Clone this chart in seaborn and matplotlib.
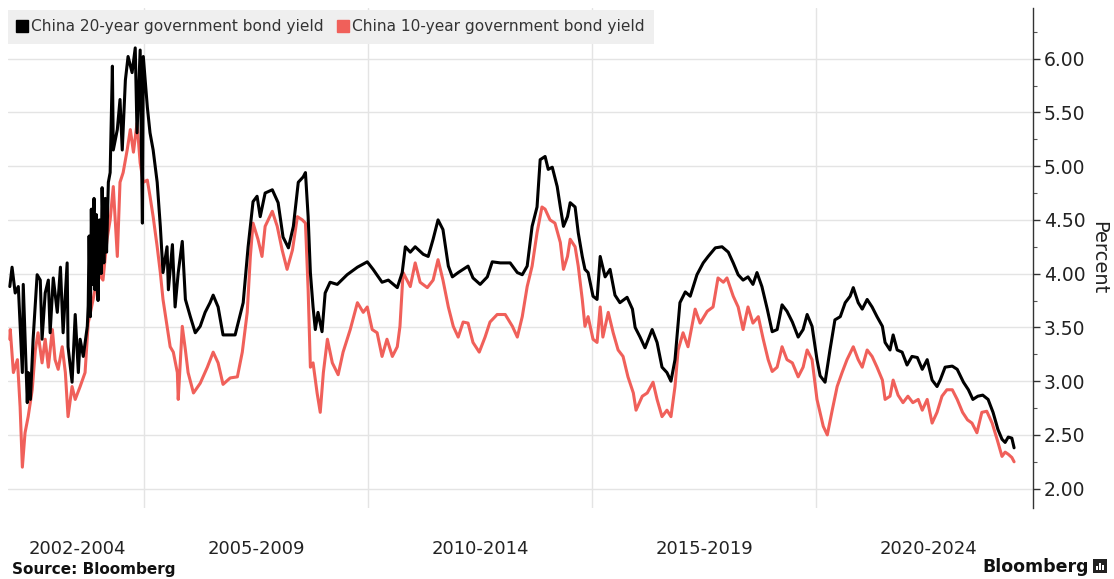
import matplotlib
matplotlib.use("Agg")
import matplotlib.pyplot as plt
from matplotlib.lines import Line2D
from matplotlib.patches import Rectangle
from matplotlib.ticker import MultipleLocator, FixedLocator
import pandas as pd
import seaborn as sns

# China 20-year government bond yield (decimal year, percent)
y20_years = [
    2002.00, 2002.05, 2002.12, 2002.19, 2002.28, 2002.30, 2002.39, 2002.41, 2002.46, 2002.52,
    2002.61, 2002.68, 2002.72, 2002.79, 2002.86, 2002.90, 2002.97, 2003.06, 2003.13, 2003.19,
    2003.28, 2003.30, 2003.39, 2003.46, 2003.53, 2003.57, 2003.64, 2003.73, 2003.75, 2003.77,
    2003.80, 2003.82, 2003.84, 2003.88, 2003.90, 2003.93, 2003.97, 2004.00, 2004.04, 2004.06,
    2004.10, 2004.13, 2004.16, 2004.20, 2004.24, 2004.29, 2004.31, 2004.40, 2004.46, 2004.51,
    2004.58, 2004.64, 2004.73, 2004.80, 2004.84, 2004.91, 2004.96, 2004.98, 2005.07, 2005.13,
    2005.20, 2005.29, 2005.36, 2005.42, 2005.51, 2005.54, 2005.63, 2005.69, 2005.76, 2005.85,
    2005.92, 2006.03, 2006.14, 2006.25, 2006.36, 2006.47, 2006.54, 2006.65, 2006.76, 2007.03,
    2007.21, 2007.32, 2007.43, 2007.52, 2007.59, 2007.70, 2007.86, 2007.99, 2008.10, 2008.22,
    2008.33, 2008.44, 2008.55, 2008.60, 2008.66, 2008.71, 2008.77, 2008.82, 2008.88, 2008.97,
    2009.04, 2009.15, 2009.31, 2009.53, 2009.76, 2009.98, 2010.11, 2010.31, 2010.45, 2010.65,
    2010.76, 2010.83, 2010.94, 2011.05, 2011.23, 2011.34, 2011.45, 2011.56, 2011.67, 2011.79,
    2011.88, 2012.01, 2012.23, 2012.34, 2012.50, 2012.66, 2012.77, 2012.95, 2013.17, 2013.33,
    2013.44, 2013.55, 2013.66, 2013.77, 2013.84, 2013.95, 2014.02, 2014.11, 2014.22, 2014.29,
    2014.36, 2014.45, 2014.51, 2014.62, 2014.69, 2014.78, 2014.84, 2014.91, 2015.02, 2015.11,
    2015.18, 2015.29, 2015.40, 2015.51, 2015.62, 2015.78, 2015.90, 2015.96, 2016.07, 2016.18,
    2016.34, 2016.45, 2016.56, 2016.67, 2016.76, 2016.85, 2016.96, 2017.08, 2017.19, 2017.34,
    2017.48, 2017.59, 2017.75, 2017.90, 2018.04, 2018.15, 2018.26, 2018.37, 2018.48, 2018.59,
    2018.68, 2018.79, 2018.91, 2019.02, 2019.13, 2019.24, 2019.35, 2019.47, 2019.60, 2019.71,
    2019.80, 2019.91, 2020.02, 2020.09, 2020.20, 2020.31, 2020.42, 2020.54, 2020.65, 2020.76,
    2020.83, 2020.94, 2021.03, 2021.14, 2021.25, 2021.36, 2021.48, 2021.54, 2021.65, 2021.72,
    2021.81, 2021.92, 2022.03, 2022.14, 2022.26, 2022.37, 2022.48, 2022.59, 2022.70, 2022.77,
    2022.88, 2023.04, 2023.15, 2023.29, 2023.40, 2023.50, 2023.61, 2023.72, 2023.84, 2023.95,
    2024.06, 2024.15, 2024.22, 2024.29, 2024.37, 2024.42,
]
y20_values = [
    3.88, 4.06, 3.82, 3.88, 3.08, 3.90, 2.80, 3.08, 2.83, 3.39,
    3.99, 3.94, 3.39, 3.82, 3.94, 3.45, 3.96, 3.64, 4.06, 3.45,
    4.10, 3.32, 2.99, 3.62, 3.08, 3.39, 3.23, 3.51, 3.70, 4.35,
    3.60, 4.60, 3.90, 4.70, 3.85, 4.55, 3.75, 4.50, 4.00, 4.80,
    4.10, 4.70, 4.20, 4.85, 4.94, 5.93, 5.15, 5.34, 5.62, 5.15,
    5.80, 6.02, 5.87, 6.10, 5.31, 6.08, 4.47, 6.02, 5.55, 5.31,
    5.15, 4.85, 4.44, 4.01, 4.25, 3.85, 4.27, 3.69, 4.01, 4.30,
    3.76, 3.60, 3.45, 3.51, 3.64, 3.73, 3.80, 3.69, 3.43, 3.43,
    3.73, 4.25, 4.67, 4.72, 4.53, 4.75, 4.78, 4.66, 4.34, 4.24,
    4.44, 4.85, 4.90, 4.94, 4.53, 4.01, 3.69, 3.48, 3.64, 3.46,
    3.82, 3.92, 3.90, 3.99, 4.06, 4.11, 4.04, 3.92, 3.94, 3.87,
    4.01, 4.25, 4.20, 4.25, 4.18, 4.16, 4.32, 4.50, 4.41, 4.07,
    3.97, 4.01, 4.07, 3.96, 3.90, 3.97, 4.11, 4.10, 4.10, 4.01,
    3.99, 4.07, 4.44, 4.62, 5.06, 5.09, 4.97, 4.99, 4.81, 4.62,
    4.44, 4.53, 4.66, 4.62, 4.38, 4.16, 4.04, 4.01, 3.79, 3.76,
    4.16, 3.97, 4.04, 3.80, 3.73, 3.78, 3.67, 3.50, 3.41, 3.31,
    3.48, 3.36, 3.13, 3.08, 3.00, 3.20, 3.73, 3.83, 3.79, 3.99,
    4.10, 4.16, 4.24, 4.25, 4.20, 4.10, 3.99, 3.94, 3.97, 3.90,
    4.01, 3.88, 3.67, 3.46, 3.48, 3.71, 3.65, 3.55, 3.41, 3.48,
    3.62, 3.51, 3.20, 3.05, 2.99, 3.29, 3.57, 3.60, 3.73, 3.79,
    3.87, 3.73, 3.67, 3.76, 3.69, 3.60, 3.51, 3.36, 3.29, 3.43,
    3.29, 3.27, 3.15, 3.23, 3.22, 3.11, 3.20, 3.01, 2.95, 3.01,
    3.13, 3.14, 3.11, 2.99, 2.92, 2.83, 2.86, 2.87, 2.83, 2.71,
    2.55, 2.46, 2.43, 2.48, 2.47, 2.38,
]

# China 10-year government bond yield (decimal year, percent)
y10_years = [
    2002.00, 2002.01, 2002.08, 2002.17, 2002.23, 2002.28, 2002.34, 2002.41, 2002.50, 2002.57,
    2002.63, 2002.72, 2002.79, 2002.86, 2002.95, 2003.01, 2003.08, 2003.17, 2003.24, 2003.30,
    2003.39, 2003.46, 2003.57, 2003.68, 2003.75, 2003.86, 2003.97, 2004.08, 2004.17, 2004.24,
    2004.31, 2004.40, 2004.46, 2004.53, 2004.62, 2004.69, 2004.76, 2004.84, 2004.91, 2004.98,
    2005.07, 2005.13, 2005.20, 2005.29, 2005.36, 2005.42, 2005.51, 2005.58, 2005.65, 2005.74,
    2005.76, 2005.85, 2005.92, 2005.98, 2006.10, 2006.25, 2006.41, 2006.54, 2006.65, 2006.76,
    2006.92, 2007.08, 2007.19, 2007.30, 2007.37, 2007.43, 2007.54, 2007.63, 2007.70, 2007.86,
    2007.97, 2008.08, 2008.19, 2008.31, 2008.42, 2008.53, 2008.60, 2008.66, 2008.71, 2008.77,
    2008.86, 2008.93, 2009.00, 2009.09, 2009.20, 2009.33, 2009.44, 2009.60, 2009.76, 2009.89,
    2009.98, 2010.09, 2010.20, 2010.31, 2010.42, 2010.54, 2010.65, 2010.71, 2010.78, 2010.89,
    2010.94, 2011.05, 2011.16, 2011.32, 2011.45, 2011.56, 2011.67, 2011.79, 2011.90, 2012.01,
    2012.12, 2012.23, 2012.34, 2012.48, 2012.61, 2012.72, 2012.88, 2013.06, 2013.22, 2013.33,
    2013.44, 2013.55, 2013.66, 2013.77, 2013.88, 2013.95, 2014.06, 2014.17, 2014.29, 2014.36,
    2014.45, 2014.51, 2014.62, 2014.69, 2014.78, 2014.84, 2014.91, 2015.02, 2015.11, 2015.18,
    2015.24, 2015.36, 2015.47, 2015.58, 2015.69, 2015.80, 2015.92, 2015.98, 2016.12, 2016.23,
    2016.36, 2016.45, 2016.56, 2016.67, 2016.76, 2016.85, 2016.92, 2017.03, 2017.14, 2017.30,
    2017.41, 2017.57, 2017.70, 2017.81, 2017.93, 2018.01, 2018.15, 2018.26, 2018.37, 2018.48,
    2018.59, 2018.71, 2018.82, 2018.93, 2019.02, 2019.13, 2019.24, 2019.35, 2019.47, 2019.60,
    2019.71, 2019.80, 2019.91, 2020.02, 2020.16, 2020.25, 2020.36, 2020.47, 2020.58, 2020.69,
    2020.83, 2020.94, 2021.03, 2021.14, 2021.25, 2021.36, 2021.48, 2021.54, 2021.65, 2021.72,
    2021.83, 2021.94, 2022.05, 2022.16, 2022.28, 2022.37, 2022.48, 2022.59, 2022.70, 2022.81,
    2022.92, 2023.04, 2023.15, 2023.27, 2023.38, 2023.48, 2023.59, 2023.70, 2023.81, 2023.93,
    2024.04, 2024.15, 2024.22, 2024.29, 2024.37, 2024.42,
]
y10_values = [
    3.39, 3.48, 3.08, 3.20, 2.76, 2.20, 2.52, 2.67, 2.92, 3.29,
    3.45, 3.17, 3.39, 3.13, 3.48, 3.20, 3.11, 3.32, 3.08, 2.67,
    2.95, 2.83, 2.95, 3.08, 3.54, 3.76, 4.01, 3.94, 4.32, 4.50,
    4.81, 4.16, 4.85, 4.94, 5.15, 5.34, 5.13, 5.40, 5.03, 4.85,
    4.87, 4.72, 4.53, 4.25, 4.01, 3.76, 3.51, 3.32, 3.27, 3.08,
    2.83, 3.51, 3.29, 3.08, 2.89, 2.98, 3.13, 3.27, 3.17, 2.97,
    3.03, 3.04, 3.27, 3.64, 4.16, 4.47, 4.32, 4.16, 4.44, 4.58,
    4.44, 4.22, 4.04, 4.22, 4.53, 4.50, 4.47, 3.85, 3.13, 3.17,
    2.89, 2.71, 3.08, 3.39, 3.17, 3.06, 3.27, 3.48, 3.73, 3.64,
    3.69, 3.48, 3.45, 3.23, 3.39, 3.23, 3.32, 3.51, 4.01, 3.92,
    3.88, 4.10, 3.92, 3.87, 3.94, 4.13, 3.94, 3.69, 3.51, 3.41,
    3.55, 3.54, 3.36, 3.27, 3.41, 3.55, 3.62, 3.62, 3.51, 3.41,
    3.60, 3.88, 4.07, 4.38, 4.62, 4.60, 4.50, 4.47, 4.29, 4.04,
    4.16, 4.32, 4.25, 4.07, 3.76, 3.51, 3.60, 3.39, 3.36, 3.69,
    3.41, 3.64, 3.45, 3.29, 3.23, 3.04, 2.89, 2.73, 2.86, 2.89,
    2.99, 2.83, 2.67, 2.73, 2.67, 2.95, 3.29, 3.45, 3.32, 3.67,
    3.54, 3.65, 3.69, 3.96, 3.92, 3.96, 3.79, 3.69, 3.48, 3.69,
    3.54, 3.60, 3.39, 3.20, 3.09, 3.13, 3.32, 3.20, 3.17, 3.04,
    3.13, 3.29, 3.20, 2.83, 2.58, 2.50, 2.73, 2.95, 3.08, 3.20,
    3.32, 3.20, 3.13, 3.29, 3.23, 3.13, 3.01, 2.83, 2.86, 3.01,
    2.87, 2.80, 2.86, 2.80, 2.83, 2.73, 2.83, 2.61, 2.71, 2.86,
    2.92, 2.92, 2.83, 2.71, 2.64, 2.61, 2.52, 2.71, 2.72, 2.61,
    2.46, 2.30, 2.34, 2.32, 2.29, 2.25,
]

series_names = ["China 20-year government bond yield", "China 10-year government bond yield"]
series_colors = ["#000000", "#f0605a"]

period_ticks = [2003.5, 2007.5, 2012.5, 2017.5, 2022.5]
period_labels = ["2002-2004", "2005-2009", "2010-2014", "2015-2019", "2020-2024"]
period_bounds = [2005, 2010, 2015, 2020]
yield_ticks = [2.0, 2.5, 3.0, 3.5, 4.0, 4.5, 5.0, 5.5, 6.0]

df = pd.concat([
    pd.DataFrame({"year": y20_years, "yield": y20_values, "series": series_names[0]}),
    pd.DataFrame({"year": y10_years, "yield": y10_values, "series": series_names[1]}),
], ignore_index=True)

sns.set_theme(style="white")
plt.rcParams["font.family"] = ["DejaVu Sans"]

fig = plt.figure(figsize=(11.14, 5.79), dpi=100)
ax = fig.add_axes([0.0072, 0.1226, 0.92, 0.8634])

# 10-year drawn first so the 20-year line sits on top
for name, color in zip(series_names[::-1], series_colors[::-1]):
    sns.lineplot(data=df[df["series"] == name], x="year", y="yield", color=color,
                 linewidth=2.2, estimator=None, sort=False, ax=ax, legend=False)

ax.set_xlim(2001.96, 2024.84)
ax.set_ylim(1.82, 6.47)

# Axes styling: right-hand value axis only
for side in ["top", "left", "bottom"]:
    ax.spines[side].set_visible(False)
ax.spines["right"].set_color("#333333")
ax.spines["right"].set_linewidth(1.0)

ax.yaxis.tick_right()
ax.yaxis.set_label_position("right")
ax.yaxis.set_major_locator(FixedLocator(yield_ticks))
ax.yaxis.set_minor_locator(MultipleLocator(0.25))
ax.set_yticklabels([f"{v:.2f}" for v in yield_ticks])
ax.tick_params(axis="y", which="major", right=True, length=5, width=1, color="#333333",
               labelsize=13.5, labelcolor="#222222", pad=3)
ax.tick_params(axis="y", which="minor", right=True, length=3, width=0.8, color="#555555")
ax.set_ylabel("Percent", rotation=270, fontsize=14, color="#222222", labelpad=16)

ax.xaxis.set_major_locator(FixedLocator(period_ticks))
ax.xaxis.set_minor_locator(FixedLocator(period_bounds))
ax.set_xticklabels(period_labels)
ax.tick_params(axis="x", which="both", length=0, labelsize=13, labelcolor="#222222", pad=23)
ax.set_xlabel("")

ax.grid(False)
ax.grid(axis="y", which="major", color="#e4e4e4", linewidth=1.0)
ax.grid(axis="x", which="minor", color="#e4e4e4", linewidth=1.0)
ax.set_axisbelow(True)

# Legend band across the top
handles = [Line2D([0], [0], marker="s", linestyle="none", markersize=8.5,
                  markerfacecolor=c, markeredgecolor=c) for c in series_colors]
leg = ax.legend(handles, series_names, loc="upper left", bbox_to_anchor=(0.0, 0.997),
                ncol=2, frameon=True, fontsize=11.1, handlelength=0.6, handletextpad=0.25,
                columnspacing=1.0, borderpad=0.62, borderaxespad=0.0, labelcolor="#333333")
leg.get_frame().set_facecolor("#efefef")
leg.get_frame().set_edgecolor("none")
leg.get_frame().set_boxstyle("square", pad=0.0)
leg.get_frame().set_alpha(1.0)

# Footer
fig.text(0.011, 0.004, "Source: Bloomberg", fontsize=11, fontweight="bold",
         color="#111111", ha="left", va="bottom")
fig.text(0.977, 0.006, "Bloomberg", fontsize=12.5, fontweight="bold",
         color="#111111", ha="right", va="bottom")
fig.patches.append(Rectangle((0.981, 0.010), 0.0125, 0.024, transform=fig.transFigure,
                             facecolor="#222222", edgecolor="none"))
for bx, bh in [(0.9838, 0.008), (0.9865, 0.013), (0.9892, 0.010)]:
    fig.patches.append(Rectangle((bx, 0.015), 0.0015, bh, transform=fig.transFigure,
                                 facecolor="white", edgecolor="none"))

fig.savefig("out.png", dpi=100)
